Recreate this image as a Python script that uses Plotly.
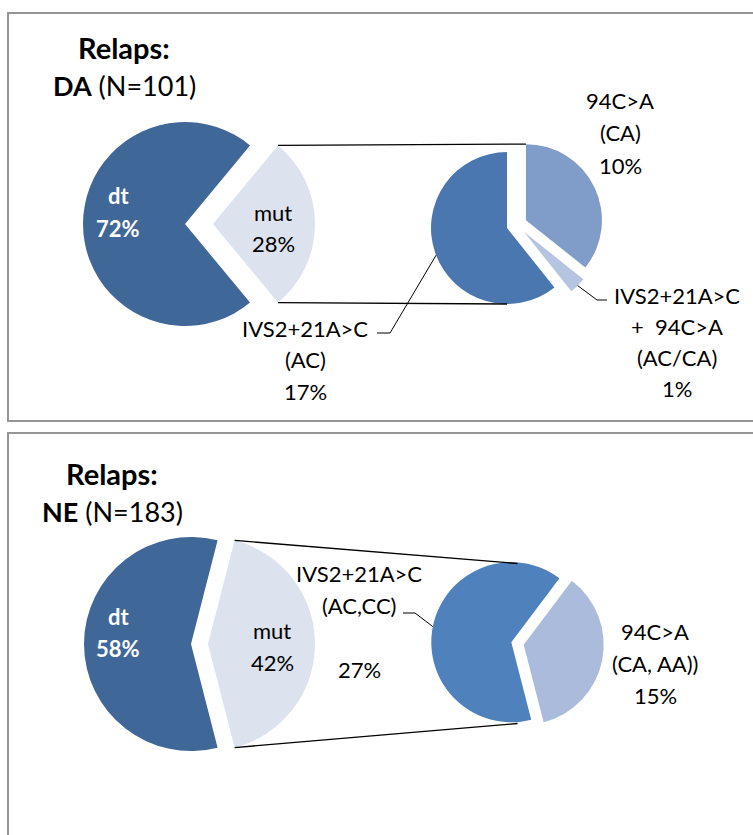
import math
import plotly.graph_objects as go

W, H = 753, 835
FONT = "Lato"

# ---- data: share of all relapse patients, in percent ----
da_main_labels = ["dt", "mut"]
da_main_values = [72, 28]
da_sub_labels = [["IVS2+21A>C", "(AC)"],
                 ["IVS2+21A>C", "+\u00a0\u00a094C>A", "(AC/CA)"],
                 ["94C>A", "(CA)"]]
da_sub_values = [17, 1, 10]

ne_main_labels = ["dt", "mut"]
ne_main_values = [58, 42]
ne_sub_labels = [["IVS2+21A>C", "(AC,CC)", ""],
                 ["94C>A", "(CA, AA))"]]
ne_sub_values = [27, 15]

panel_titles = [("Relaps:", "DA", "(N=101)"), ("Relaps:", "NE", "(N=183)")]

# ---- styling ----
C_DT = "#3f6898"
C_MUT = "#dce2ee"
DA_SUB_COLORS = ["#4a77b0", "#b5c4e0", "#7f9dc8"]
NE_SUB_COLORS = ["#4f81bd", "#abbbdb"]

fig = go.Figure()
shapes, annotations = [], []


def pie(values, colors, cx, cy, r, pull, start_clock):
    """Pie centred at pixel (cx, cy), radius r; slices run counterclockwise,
    the first one beginning at start_clock degrees (clockwise from 12 o'clock)."""
    half = r * (1 + max(pull))
    total = sum(values)
    # plotly's counterclockwise layout puts the first slice clockwise of `rotation`
    rotation = start_clock - 360 * values[0] / total
    while rotation <= -360:
        rotation += 360
    fig.add_trace(go.Pie(
        values=values, sort=False, direction="counterclockwise", rotation=rotation,
        pull=pull, marker=dict(colors=colors, line=dict(width=0)),
        textinfo="none", hoverinfo="skip", showlegend=False,
        domain=dict(x=[(cx - half) / W, (cx + half) / W],
                    y=[1 - (cy + half) / H, 1 - (cy - half) / H])))
    start = 90 - start_clock
    geo = []
    for v, p in zip(values, pull):
        span = 360 * v / total
        mid = start + span / 2
        tip = (cx + p * r * math.cos(math.radians(mid)),
               cy - p * r * math.sin(math.radians(mid)))
        geo.append(dict(a0=start, a1=start + span, mid=mid, tip=tip))
        start += span
    return geo


def on_rim(tip, r, ang):
    return (tip[0] + r * math.cos(math.radians(ang)),
            tip[1] - r * math.sin(math.radians(ang)))


def line(points, width=1.0):
    d = "M " + " L ".join(f"{x:.1f},{y:.1f}" for x, y in points)
    shapes.append(dict(type="path", path=d, xref="x", yref="y",
                       line=dict(color="black", width=width), layer="above"))


def text_block(x, y0, lines, step=31.5, size=22, color="black", bold=False, xanchor="center"):
    for i, t in enumerate(lines):
        if t == "":
            continue
        annotations.append(dict(
            x=x, y=y0 + i * step, xref="x", yref="y", text=f"<b>{t}</b>" if bold else t,
            showarrow=False, xanchor=xanchor, yanchor="middle",
            font=dict(family=FONT, size=size, color=color)))


def title(cx, y_top, parts):
    head, bold_part, rest = parts
    text_block(cx, y_top, [head], size=29, bold=True)
    annotations.append(dict(
        x=cx, y=y_top + 38, xref="x", yref="y", text=f"<b>{bold_part}</b> {rest}",
        showarrow=False, xanchor="center", yanchor="middle",
        font=dict(family=FONT, size=27, color="black")))


# ---- panel frames ----
for y0, y1 in [(13, 421), (433, 850)]:
    shapes.append(dict(type="rect", x0=8, x1=W + 10, y0=y0, y1=y1, xref="x", yref="y",
                       line=dict(color="#959595", width=2), layer="below"))

# ================= DA panel =================
title(124, 47, panel_titles[0])
r_big, r_sub = 102, 76
big = pie(da_main_values, [C_DT, C_MUT], 185, 224, r_big, [0, 28 / r_big],
          90 - 180 * da_main_values[1] / sum(da_main_values))
sub = pie(da_sub_values, DA_SUB_COLORS, 516.7, 224.6, r_sub, [0.135] * 3, 0)

mut = big[1]
line([on_rim(mut["tip"], r_big, mut["a1"]), on_rim(sub[2]["tip"], r_sub, 90)], 1.3)
line([on_rim(mut["tip"], r_big, mut["a0"]), on_rim(sub[0]["tip"], r_sub, 270)], 1.3)

text_block(118, 195, [da_main_labels[0], f"{da_main_values[0]}%"], step=33,
           color="white", bold=True)
text_block(273, 212, [da_main_labels[1], f"{da_main_values[1]}%"], step=31)

# AC slice label with leader
text_block(305, 328, da_sub_labels[0] + [f"{da_sub_values[0]}%"], step=31.5)
line([(377, 333), (390, 333), on_rim(sub[0]["tip"], r_sub, 201)])
# AC/CA slice label with leader
text_block(677, 295, da_sub_labels[1] + [f"{da_sub_values[1]}%"], step=31)
p = on_rim(sub[1]["tip"], r_sub, sub[1]["mid"])
line([p, (597, 300), (607, 300)])
# CA slice label
text_block(620, 100, da_sub_labels[2] + [f"{da_sub_values[2]}%"], step=32.5)

# ================= NE panel =================
title(112, 473, panel_titles[1])
r_big2, r_sub2 = 107, 80
big2 = pie(ne_main_values, [C_DT, C_MUT], 191, 644, r_big2, [0, 17 / r_big2],
           90 - 180 * ne_main_values[1] / sum(ne_main_values))
sub2 = pie(ne_sub_values, NE_SUB_COLORS, 517.5, 643.5, r_sub2, [0.079, 0.079], 37)

mut2 = big2[1]
line([on_rim(mut2["tip"], r_big2, mut2["a1"]), (517.5, 643.5 - r_sub2)], 1.3)
line([on_rim(mut2["tip"], r_big2, mut2["a0"]), (517.5, 643.5 + r_sub2)], 1.3)

text_block(118, 616, [ne_main_labels[0], f"{ne_main_values[0]}%"], step=32,
           color="white", bold=True)
text_block(272, 630, [ne_main_labels[1], f"{ne_main_values[1]}%"], step=32)

text_block(359, 573, ne_sub_labels[0] + [f"{ne_sub_values[0]}%"], step=32)
line([(403, 613), (415, 613), on_rim(sub2[0]["tip"], r_sub2, sub2[0]["mid"])])
text_block(655, 631, ne_sub_labels[1] + [f"{ne_sub_values[1]}%"], step=32)

fig.update_layout(
    width=W, height=H, margin=dict(l=0, r=0, t=0, b=0),
    paper_bgcolor="white", plot_bgcolor="white",
    xaxis=dict(range=[0, W], visible=False, fixedrange=True, domain=[0, 1]),
    yaxis=dict(range=[H, 0], visible=False, fixedrange=True, domain=[0, 1]),
    shapes=shapes, annotations=annotations, showlegend=False,
)
fig.write_html("out.html")
